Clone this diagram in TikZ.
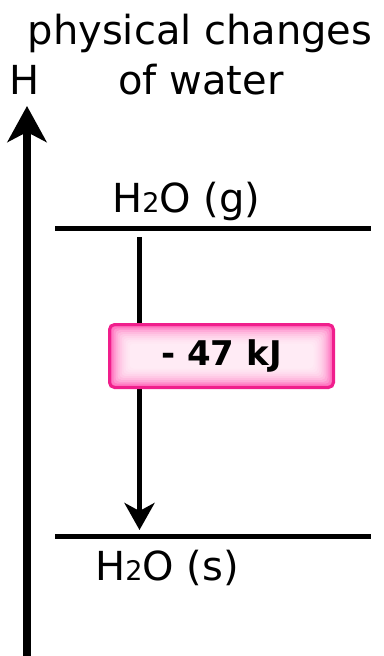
\documentclass[tikz,border=0pt]{standalone}
\usepackage{fontspec}
\setmainfont{DejaVu Sans}
\usepackage{tikz}
\usetikzlibrary{positioning, arrows.meta}
\definecolor{boxedge}{RGB}{240,30,140}
\definecolor{boxpink}{RGB}{255,90,180}
\tikzset{
  lbl/.style={inner sep=0pt, font=\fontsize{40}{48}\selectfont},
  level/.style={line width=4.5pt},
  bigarrow/.style={line width=7.5pt, -{Stealth[length=36pt,width=39pt,inset=10pt]}},
  downarrow/.style={line width=5pt, -{Stealth[length=27pt,width=30pt,inset=8pt]}},
  pinkbox/.style={draw=boxedge, line width=3pt, rounded corners=5pt,
    fill=boxpink,
    path picture={
      \foreach \k in {1,...,10}
        \fill[white, opacity=0.2, rounded corners=4pt]
          ([shift={(\k*2pt,-\k*1.9pt)}]path picture bounding box.north west) rectangle
          ([shift={(-\k*2pt,\k*1.9pt)}]path picture bounding box.south east);
    },
    minimum width=224pt, minimum height=63pt,
    font=\fontsize{34}{40}\selectfont\bfseries}
}
\newcommand{\smalltwo}{{\fontsize{27}{27}\selectfont 2}}

\begin{document}
\begin{tikzpicture}[x=1pt,y=-1pt]
    \useasboundingbox (0,0) rectangle (383,656);
    % title and axis label
    \node[lbl, anchor=base] (title1) at (200,44) {physical changes};
    \node[lbl, anchor=base] (title2) at (201,94) {of water};
    \node[lbl, anchor=base west] (hlab) at (9,94) {H};
    % enthalpy axis
    \coordinate (axisbot) at (27,656);
    \coordinate (axistop) at (27,106);
    \draw[bigarrow] (axisbot) -- (axistop);
    % energy levels
    \coordinate (gasl) at (55,228.5);
    \coordinate (gasr) at (371,228.5);
    \coordinate (soll) at (55,536.5);
    \coordinate (solr) at (371,536.5);
    \draw[level] (gasl) -- (gasr);
    \draw[level] (soll) -- (solr);
    \node[lbl, anchor=base west] (gas) at (112,212) {H\smalltwo O (g)};
    \node[lbl, anchor=base west] (solid) at (95,580) {H\smalltwo O (s)};
    % change
    \coordinate (from) at (139.5,237);
    \coordinate (to) at (139.5,530);
    \draw[downarrow] (from) -- (to);
    \node[pinkbox] (dh) at (221.5,356) {- 47 kJ};
\end{tikzpicture}
\end{document}
